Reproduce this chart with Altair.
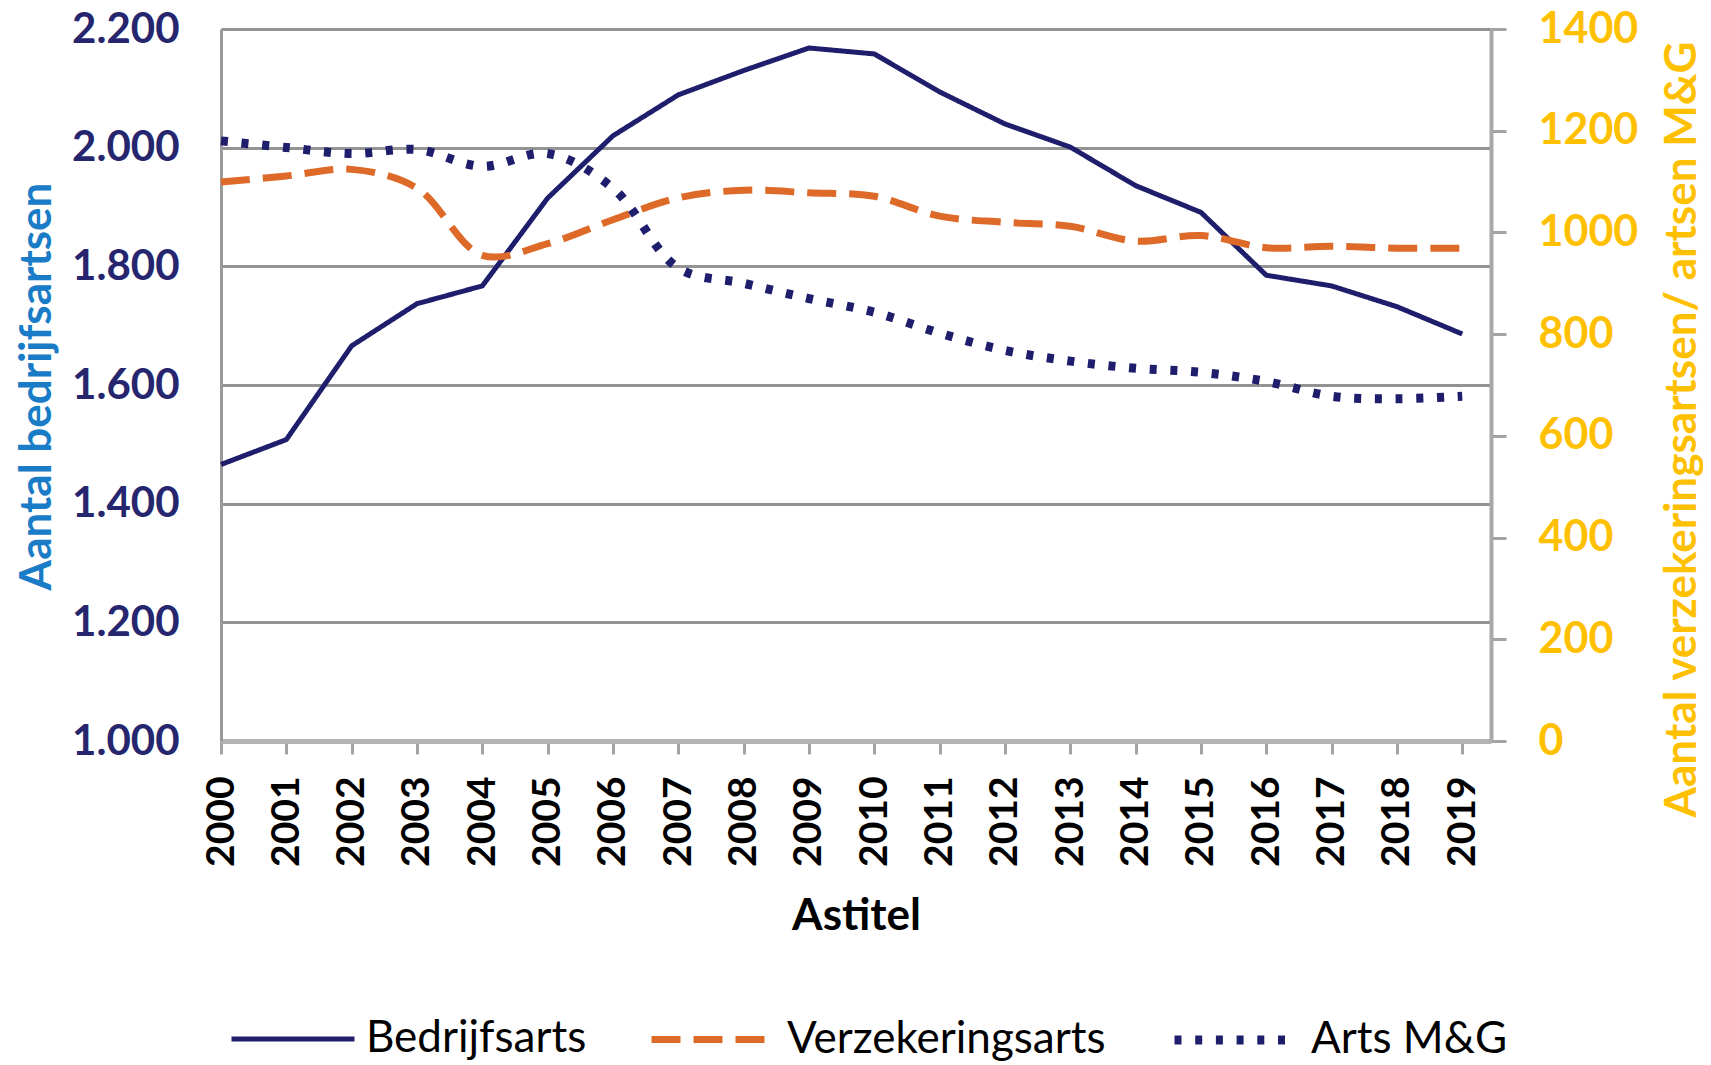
import altair as alt
import pandas as pd

years = list(range(2000, 2020))
bedrijfsarts = [1466, 1508, 1666, 1737, 1767, 1915, 2020, 2089, 2130, 2168,
                2158, 2094, 2040, 2001, 1936, 1891, 1785, 1767, 1732, 1686]
verzekeringsarts = [1099, 1111, 1124, 1087, 955, 978, 1025, 1068, 1083, 1078,
                    1071, 1032, 1020, 1012, 983, 994, 970, 973, 969, 969]
arts_mg = [1180, 1167, 1155, 1163, 1130, 1155, 1087, 930, 900, 870,
           843, 802, 768, 747, 733, 725, 707, 678, 673, 678]

series_names = ["Bedrijfsarts", "Verzekeringsarts", "Arts M&G"]
left_ticks = [1000, 1200, 1400, 1600, 1800, 2000, 2200]
right_ticks = [0, 200, 400, 600, 800, 1000, 1200, 1400]

NAVY = "#1f1e6c"
ORANGE = "#de6a2a"
GOLD = "#ffc000"
BLUE = "#1a7cc6"
FONT = "Lato"

rows = []
for name, vals in zip(series_names, [bedrijfsarts, verzekeringsarts, arts_mg]):
    for y, v in zip(years, vals):
        rows.append({"year": y, "value": v, "series": name})
df = pd.DataFrame(rows)

x_enc = alt.X(
    "year:Q",
    scale=alt.Scale(domain=[2000, 2019.44], nice=False, zero=False),
    axis=alt.Axis(
        values=years, format="d", labelAngle=270, labelFont=FONT,
        labelFontSize=39, labelFontWeight="bold", labelColor="black",
        labelPadding=22, tickSize=13, tickColor="#a3a3a3", tickWidth=3,
        domainColor="#b4b4b4", domainWidth=5, grid=False,
        title="Astitel", titleFont=FONT, titleFontSize=44, titleFontWeight="bold",
        titleColor="black", titleY=188, titleBaseline="alphabetic",
        labelOverlap=False, labelFlush=False,
    ),
)

color_enc = alt.Color(
    "series:N",
    scale=alt.Scale(domain=series_names, range=[NAVY, ORANGE, NAVY]),
    title=None,
    legend=alt.Legend(
        orient="none", legendX=8, legendY=945, direction="horizontal",
        symbolType="stroke", symbolSize=15129, labelFont=FONT,
        labelFontSize=44, labelColor="black", columnPadding=50,
        labelOffset=9, labelLimit=800,
    ),
)
dash_enc = alt.StrokeDash(
    "series:N",
    scale=alt.Scale(domain=series_names, range=[[1, 0], [29, 13], [7, 13.7]]),
    title=None,
)
width_enc = alt.StrokeWidth(
    "series:N",
    scale=alt.Scale(domain=series_names, range=[5, 9, 8]),
    title=None,
)

left = alt.Chart(df).transform_filter(
    alt.datum.series == "Bedrijfsarts"
).mark_line(strokeJoin="round").encode(
    x=x_enc,
    y=alt.Y(
        "value:Q",
        scale=alt.Scale(domain=[1000, 2200], nice=False, zero=False),
        axis=alt.Axis(
            orient="left", values=left_ticks,
            labelExpr="replace(format(datum.value, ','), ',', '.')",
            labelFont=FONT, labelFontSize=42, labelFontWeight="bold",
            labelColor="#26266f", labelPadding=42, ticks=False,
            domainColor="#9a9a9a", domainWidth=3,
            grid=True, gridColor="#939393", gridWidth=3,
            title="Aantal bedrijfsartsen", titleFont=FONT, titleFontSize=44,
            titleFontWeight="bold", titleColor=BLUE, titleAngle=270,
            titleX=-184, titleY=357, titleBaseline="middle", titleAlign="center",
        ),
    ),
    color=color_enc,
    strokeDash=dash_enc,
    strokeWidth=width_enc,
)

right = alt.Chart(df).transform_filter(
    alt.datum.series != "Bedrijfsarts"
).mark_line(strokeCap="butt", strokeJoin="round", interpolate="catmull-rom").encode(
    x=x_enc,
    y=alt.Y(
        "value:Q",
        scale=alt.Scale(domain=[0, 1400], nice=False, zero=False),
        axis=alt.Axis(
            orient="right", values=right_ticks, format="d",
            labelFont=FONT, labelFontSize=43, labelFontWeight="bold",
            labelColor=GOLD, labelPadding=32, tickSize=15,
            tickColor="#a3a3a3", tickWidth=3,
            domainColor="#a8a8a8", domainWidth=4, grid=False,
            title="Aantal verzekeringsartsen/ artsen M&G", titleFont=FONT,
            titleFontSize=44, titleFontWeight="bold", titleColor=GOLD,
            titleAngle=270, titleX=191, titleY=400, titleBaseline="middle",
            titleAlign="center",
        ),
    ),
    color=color_enc,
    strokeDash=dash_enc,
    strokeWidth=width_enc,
)

chart = alt.layer(left, right).resolve_scale(y="independent").properties(
    width=1270,
    height=712,
    padding={"left": 213, "top": 21, "right": 212, "bottom": 324},
    autosize=alt.AutoSizeParams(type="none"),
).configure_view(strokeWidth=0).configure(background="white")

chart.save("out.html", embed_options={"renderer": "svg", "actions": False})
